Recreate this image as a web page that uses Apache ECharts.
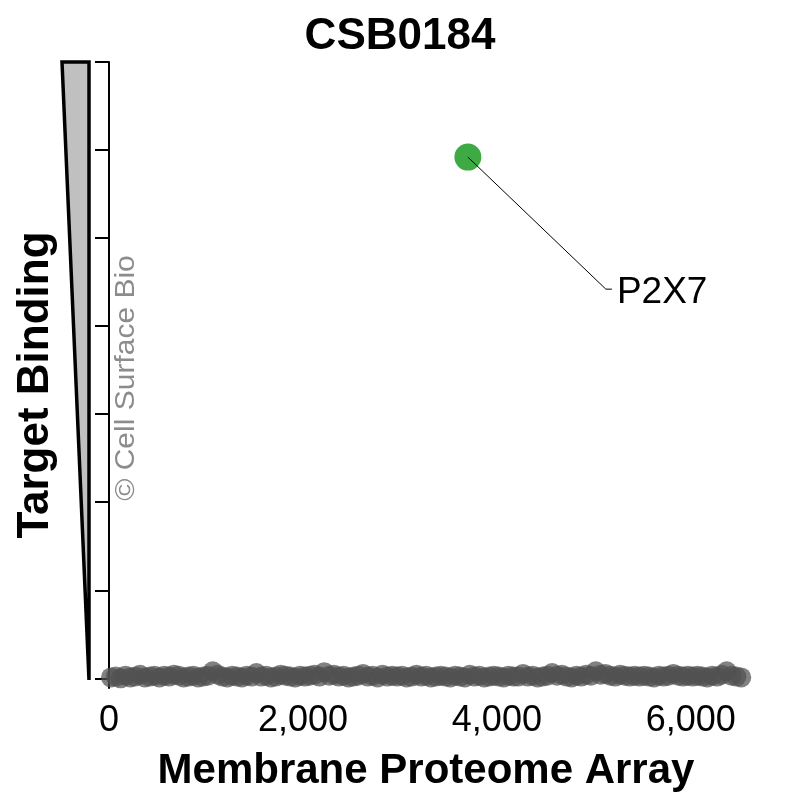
<!DOCTYPE html>
<html>
<head>
<meta charset="utf-8">
<script src="https://cdn.jsdelivr.net/npm/echarts@6/dist/echarts.min.js"></script>
<style>html,body{margin:0;padding:0;background:#fff}#c{width:803px;height:803px}</style>
</head>
<body>
<div id="c"></div>
<script>
const titleText = 'CSB0184';
const xTitle = 'Membrane Proteome Array';
const yTitle = 'Target Binding';
const watermark = '\u00A9 Cell Surface Bio';
const xTicks = [0, 2000, 4000, 6000];
const yTicks = [0, 1, 2, 3, 4, 5, 6, 7];

const bgX = [20,70,120,170,220,270,320,370,420,470,
  520,570,620,670,720,770,820,870,920,970,
  1020,1070,1120,1170,1220,1270,1320,1370,1420,1470,
  1520,1570,1620,1670,1720,1770,1820,1870,1920,1970,
  2020,2070,2120,2170,2220,2270,2320,2370,2420,2470,
  2520,2570,2620,2670,2720,2770,2820,2870,2920,2970,
  3020,3070,3120,3170,3220,3270,3320,3370,3420,3470,
  3520,3570,3620,3670,3720,3770,3820,3870,3920,3970,
  4020,4070,4120,4170,4220,4270,4320,4370,4420,4470,
  4520,4570,4620,4670,4720,4770,4820,4870,4920,4970,
  5020,5070,5120,5170,5220,5270,5320,5370,5420,5470,
  5520,5570,5620,5670,5720,5770,5820,5870,5920,5970,
  6020,6070,6120,6170,6220,6270,6320,6370,6420,6470,6520];
const bgY = [0.01,0.02,0.00,0.03,0.01,0.02,0.04,0.01,0.02,0.03,
  0.01,0.03,0.02,0.04,0.03,0.01,0.02,0.03,0.01,0.02,
  0.03,0.08,0.04,0.02,0.01,0.03,0.02,0.01,0.03,0.02,
  0.06,0.02,0.03,0.01,0.02,0.04,0.03,0.02,0.01,0.03,
  0.02,0.03,0.04,0.02,0.07,0.03,0.04,0.02,0.03,0.01,
  0.02,0.03,0.05,0.02,0.03,0.01,0.04,0.02,0.03,0.02,
  0.03,0.01,0.02,0.04,0.02,0.03,0.01,0.02,0.03,0.02,
  0.01,0.03,0.02,0.01,0.04,0.02,0.03,0.01,0.02,0.03,
  0.02,0.01,0.03,0.02,0.02,0.05,0.02,0.03,0.01,0.02,
  0.03,0.06,0.03,0.04,0.02,0.01,0.03,0.02,0.04,0.03,
  0.08,0.04,0.05,0.03,0.02,0.04,0.03,0.02,0.03,0.02,
  0.03,0.02,0.01,0.03,0.02,0.03,0.05,0.03,0.02,0.03,
  0.02,0.03,0.02,0.01,0.03,0.02,0.04,0.08,0.03,0.02,0.01];

const hitName = 'P2X7';
const hitX = 3701;
const hitY = 5.92;
const labelElbow = [5124, 4.42];
const labelEnd = [5186, 4.42];

const FONT = 'Liberation Sans, Arial, sans-serif';
const bgData = bgX.map((x, i) => [x, bgY[i]]);

const chart = echarts.init(document.getElementById('c'), null, {renderer: 'canvas'});
chart.setOption({
  animation: false,
  backgroundColor: '#ffffff',
  grid: {left: 109, top: 62, width: 640, height: 626, containLabel: false},
  xAxis: {
    type: 'value', min: 0, max: 6600, interval: 2000,
    axisLine: {show: false},
    axisTick: {show: true, length: 5, lineStyle: {color: '#555', width: 1}, customValues: xTicks},
    axisLabel: {show: true, margin: 15, fontSize: 36, color: '#000', fontFamily: FONT,
      customValues: xTicks,
      formatter: v => v.toLocaleString('en-US')},
    splitLine: {show: false}
  },
  yAxis: {
    type: 'value', min: -0.11, max: 7,
    axisLine: {show: true, lineStyle: {color: '#000', width: 2}},
    axisTick: {show: true, length: 14, lineStyle: {color: '#000', width: 2}, customValues: yTicks},
    axisLabel: {show: false},
    splitLine: {show: false}
  },
  series: [
    {
      type: 'scatter', data: bgData, symbolSize: 20, clip: false,
      itemStyle: {color: '#505050', opacity: 0.72}, z: 2
    },
    {
      type: 'line', data: [[hitX, hitY], labelElbow, labelEnd],
      symbol: 'none', showSymbol: false, clip: false,
      lineStyle: {color: '#000', width: 1}, z: 3, silent: true,
      endLabel: {show: true, formatter: hitName, distance: 5, offset: [0, 4],
        fontSize: 37, color: '#000', fontFamily: FONT}
    },
    {
      type: 'scatter', data: [[hitX, hitY]], symbolSize: 27, clip: false,
      itemStyle: {color: '#3DAA43', opacity: 1}, z: 2
    }
  ],
  graphic: [
    {type: 'polygon', shape: {points: [[62, 62], [89, 62], [89, 680]]},
      style: {fill: '#c0c0c0', stroke: '#000', lineWidth: 3.5, lineJoin: 'miter'}, z: 10},
    {type: 'text', x: 400, y: 37, style: {text: titleText, fontSize: 44, fontWeight: 'bold', fontFamily: FONT,
      fill: '#000', align: 'center', verticalAlign: 'middle'}},
    {type: 'text', x: 426, y: 771, style: {text: xTitle, fontSize: 42, fontWeight: 'bold', fontFamily: FONT,
      fill: '#000', align: 'center', verticalAlign: 'middle'}},
    {type: 'text', x: 36, y: 385, rotation: Math.PI / 2, style: {text: yTitle, fontSize: 44, fontWeight: 'bold', fontFamily: FONT,
      fill: '#000', align: 'center', verticalAlign: 'middle'}},
    {type: 'text', x: 127, y: 378, rotation: Math.PI / 2, scaleX: 1.2, scaleY: 1.08, style: {text: watermark, fontSize: 25, fontFamily: FONT,
      fill: '#8c8c8c', align: 'center', verticalAlign: 'middle'}}
  ]
});
</script>
</body>
</html>
